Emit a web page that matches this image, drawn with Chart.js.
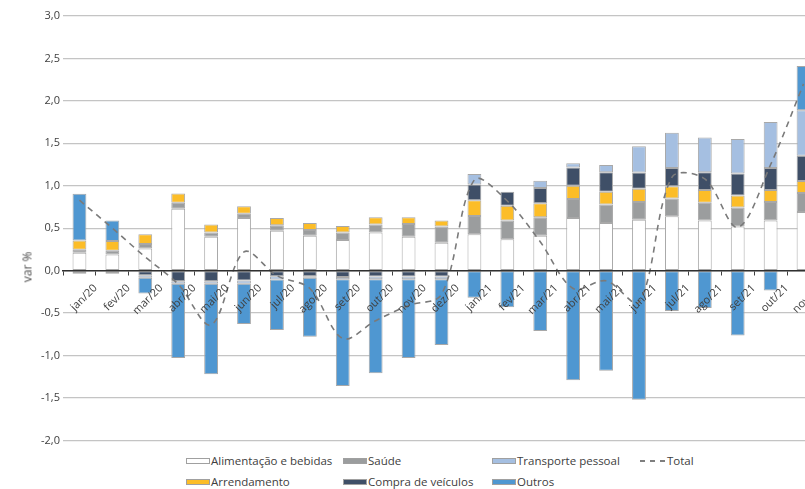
<!DOCTYPE html>
<html><head><meta charset="utf-8">
<script src="https://cdn.jsdelivr.net/npm/chart.js@4.4.1/dist/chart.umd.min.js"></script>
<style>
html,body{margin:0;padding:0;background:#fff;}
#wrap{position:relative;width:805px;height:489px;overflow:hidden;font-family:'Open Sans',sans-serif;color:#404040;}
#cv{position:absolute;left:0;top:0;}
#ytitle{position:absolute;left:27px;top:267px;transform:translate(-50%,-50%) rotate(-90deg);font-size:12px;font-weight:400;color:#4a4a4a;white-space:nowrap;}
.lg{position:absolute;font-size:11.5px;white-space:nowrap;display:flex;align-items:center;height:16px;line-height:16px;}
.lg .sw{display:inline-block;width:22px;height:4px;border:1px solid #a0a0a0;margin-right:1px;}
.lg .dash{display:inline-block;width:26px;height:1.5px;background:repeating-linear-gradient(90deg,#7f7f7f 0 5px,transparent 5px 10px);margin-right:1px;}
</style></head><body>
<div id="wrap"><canvas id="cv" width="840" height="450"></canvas><div id="ytitle">var %</div><div id="legend"></div></div>
<script>
const categories = ['jan/20','fev/20','mar/20','abr/20','mai/20','jun/20','jul/20','ago/20','set/20','out/20','nov/20','dez/20',
  'jan/21','fev/21','mar/21','abr/21','mai/21','jun/21','jul/21','ago/21','set/21','out/21','nov/21'];
const alimentacao = [0.21,0.19,0.26,0.73,0.40,0.62,0.47,0.41,0.36,0.45,0.40,0.33,0.43,0.37,0.41,0.62,0.56,0.60,0.64,0.59,0.52,0.59,0.69];
const saude = [0.035,0.045,0.055,0.07,0.05,0.05,0.065,0.07,0.09,0.095,0.15,0.19,0.215,0.22,0.22,0.225,0.22,0.21,0.21,0.21,0.225,0.22,0.225];
const arrendamento = [0.11,0.115,0.115,0.11,0.095,0.09,0.085,0.08,0.075,0.085,0.08,0.07,0.185,0.175,0.165,0.155,0.15,0.155,0.145,0.15,0.14,0.14,0.14];
const compraVeiculos = [-0.03,-0.03,-0.055,-0.125,-0.125,-0.115,-0.065,-0.065,-0.075,-0.07,-0.07,-0.07,0.185,0.165,0.18,0.215,0.23,0.19,0.215,0.21,0.26,0.26,0.30];
const transportePessoal = [-0.01,-0.01,-0.03,-0.03,-0.03,-0.04,-0.04,-0.02,-0.025,-0.03,-0.03,-0.03,0.125,0,0.085,0.05,0.085,0.31,0.415,0.41,0.405,0.54,0.535];
const outros = [0.55,0.24,-0.185,-0.875,-1.065,-0.475,-0.595,-0.695,-1.26,-1.11,-0.93,-0.775,-0.32,-0.43,-0.71,-1.29,-1.18,-1.52,-0.475,-0.44,-0.765,-0.235,0.52];
const total = [0.83,0.50,0.16,-0.16,-0.64,0.22,-0.06,-0.21,-0.80,-0.59,-0.41,-0.28,1.07,0.82,0.34,-0.21,-0.12,-0.37,1.10,1.08,0.51,1.25,2.20];
const yTicks = [3,2.5,2,1.5,1,0.5,0,-0.5,-1,-1.5,-2];

const seriesNames = ['Alimentação e bebidas','Saúde','Arrendamento','Compra de veículos','Transporte pessoal','Outros'];
const seriesData = [alimentacao,saude,arrendamento,compraVeiculos,transportePessoal,outros];
const seriesColors = ['#ffffff','#9b9d9e','#fcbd28','#3f4f67','#a5bfe1','#4f97d1'];
const totalName = 'Total';

const datasets = seriesNames.map((n,i)=>({
  type:'bar', label:n, data:seriesData[i], backgroundColor:seriesColors[i],
  borderColor:'#a8a8a8', borderWidth:1, borderSkipped:false,
  barPercentage:0.42, categoryPercentage:1, order:1
}));
datasets.push({type:'line', label:totalName, data:total, borderColor:'#7a7a7a', borderWidth:1.6,
  borderDash:[6,5], pointRadius:0, tension:0.33, fill:false, order:0, stack:'tot'});

new Chart(document.getElementById('cv'), {
  data:{labels:categories, datasets},
  options:{
    responsive:false, animation:false,
    layout:{padding:{left:0,top:16,right:20,bottom:8}},
    plugins:{legend:{display:false}, tooltip:{enabled:false}},
    scales:{
      x:{stacked:true, position:{y:0}, offset:true,
        grid:{drawOnChartArea:false, drawTicks:true, tickLength:4, color:'#404040', offset:true, z:1},
        border:{display:true, color:'#303030', width:1.5, z:1},
        ticks:{autoSkip:false, minRotation:45, maxRotation:45, labelOffset:16, padding:7, z:1,
          color:'#404040', font:{family:'Open Sans', size:11}}
      },
      y:{stacked:true, min:-2, max:3,
        afterFit:(s)=>{s.width=63;},
        afterBuildTicks:(s)=>{s.ticks=yTicks.map(v=>({value:v}));},
        grid:{color:'#c4c4c4', lineWidth:1.3, drawTicks:false},
        border:{display:false},
        ticks:{padding:3, color:'#404040', font:{family:'Open Sans', size:11},
          callback:(v)=>Number(v).toFixed(1).replace('.',',')}
      }
    }
  }
});

// HTML legend grid
const lg = document.getElementById('legend');
const cols = [186,343,492,640];
const legendOrder = [[0,0,0],[1,1,0],[4,2,0],[2,0,1],[3,1,1],[5,2,1]];
const rowY = [453,474];
legendOrder.forEach(([si,c,r])=>{
  const d=document.createElement('div'); d.className='lg';
  d.style.left=cols[c]+'px'; d.style.top=rowY[r]+'px';
  d.innerHTML='<span class="sw" style="background:'+seriesColors[si]+'"></span>'+seriesNames[si];
  lg.appendChild(d);
});
const t=document.createElement('div'); t.className='lg';
t.style.left=cols[3]+'px'; t.style.top=rowY[0]+'px';
t.innerHTML='<span class="dash"></span>'+totalName; lg.appendChild(t);
</script></body></html>
